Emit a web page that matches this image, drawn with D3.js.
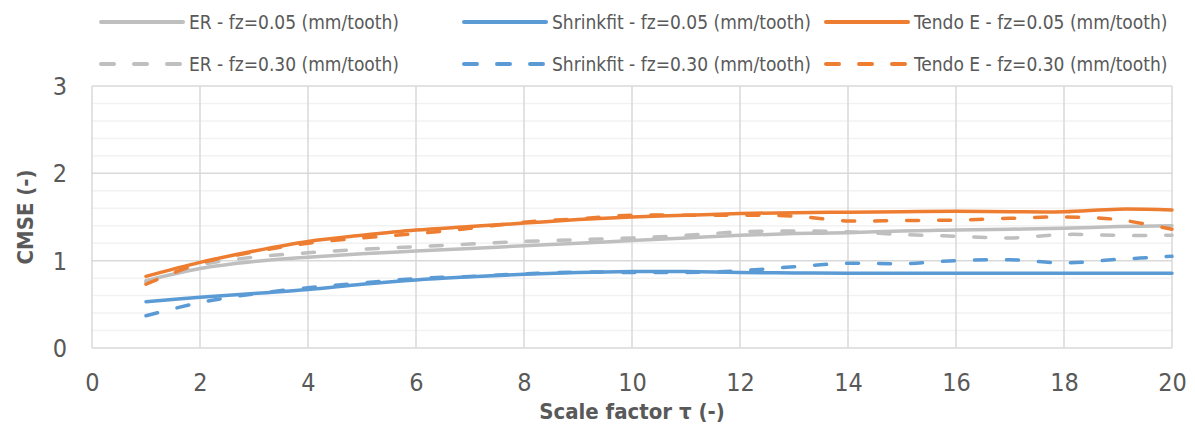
<!DOCTYPE html>
<html><head><meta charset="utf-8">
<script src="https://cdn.jsdelivr.net/npm/d3@7"></script>
<style>
html,body{margin:0;padding:0;background:#fff;}
svg text{font-family:"Liberation Sans Narrow","DejaVu Sans Condensed","Open Sans",sans-serif;fill:#595959;}
</style></head>
<body><svg id="c" width="1195" height="428"></svg>
<script>
const xValues = [1,2,3,4,5,6,7,8,9,10,11,12,13,14,15,16,17,18,19,20];
const erFz005 = [0.77,0.91,0.99,1.04,1.08,1.11,1.14,1.17,1.20,1.23,1.26,1.29,1.31,1.32,1.34,1.35,1.36,1.37,1.39,1.40];
const erFz030 = [0.75,0.95,1.04,1.09,1.13,1.16,1.19,1.22,1.24,1.26,1.29,1.33,1.34,1.33,1.30,1.28,1.26,1.30,1.29,1.29];
const shrinkFz005 = [0.53,0.58,0.625,0.67,0.73,0.78,0.815,0.845,0.865,0.875,0.875,0.865,0.86,0.855,0.855,0.855,0.855,0.855,0.855,0.855];
const shrinkFz030 = [0.37,0.52,0.62,0.69,0.745,0.795,0.82,0.85,0.87,0.865,0.865,0.885,0.93,0.97,0.965,1.0,1.01,0.975,1.015,1.05];
const tendoFz005 = [0.82,0.98,1.11,1.22,1.29,1.35,1.39,1.43,1.47,1.50,1.52,1.54,1.55,1.555,1.56,1.565,1.56,1.56,1.59,1.58];
const tendoFz030 = [0.73,0.97,1.10,1.20,1.26,1.31,1.37,1.44,1.48,1.52,1.52,1.52,1.51,1.455,1.46,1.465,1.485,1.50,1.47,1.36];
const xTicks = [0,2,4,6,8,10,12,14,16,18,20];
const yTicks = [0,1,2,3];
const yMinorTicks = [0.2,0.4,0.6,0.8,1.2,1.4,1.6,1.8,2.2,2.4,2.6,2.8];
const seriesNames = ["ER - fz=0.05 (mm/tooth)","Shrinkfit - fz=0.05 (mm/tooth)","Tendo E - fz=0.05 (mm/tooth)",
                     "ER - fz=0.30 (mm/tooth)","Shrinkfit - fz=0.30 (mm/tooth)","Tendo E - fz=0.30 (mm/tooth)"];
const seriesData = [erFz005, shrinkFz005, tendoFz005, erFz030, shrinkFz030, tendoFz030];
const seriesColors = ["#BFBFBF","#5B9BD5","#ED7D31","#BFBFBF","#5B9BD5","#ED7D31"];
const seriesDashed = [false,false,false,true,true,true];

const svg = d3.select("#c");
const L = 92, R = 1172, T = 86, B = 348;
const x = d3.scaleLinear().domain([0,20]).range([L,R]);
const y = d3.scaleLinear().domain([0,3]).range([B,T]);

svg.append("g").selectAll("line").data(yMinorTicks).join("line")
  .attr("x1",L).attr("x2",R).attr("y1",d=>y(d)).attr("y2",d=>y(d))
  .attr("stroke","#F2F2F2").attr("stroke-width",1.5);
svg.append("g").selectAll("line").data(yTicks).join("line")
  .attr("x1",L).attr("x2",R).attr("y1",d=>y(d)).attr("y2",d=>y(d))
  .attr("stroke","#D9D9D9").attr("stroke-width",1.5);
svg.append("g").selectAll("line").data(xTicks).join("line")
  .attr("x1",d=>x(d)).attr("x2",d=>x(d)).attr("y1",T).attr("y2",B)
  .attr("stroke","#D9D9D9").attr("stroke-width",1.5);

const xAxis = svg.append("g").attr("transform",`translate(0,${B})`)
  .call(d3.axisBottom(x).tickValues(xTicks).tickSize(0).tickPadding(30).tickFormat(d3.format("d")));
xAxis.select(".domain").remove();
xAxis.selectAll("text").attr("font-size",25).attr("fill","#595959").attr("dy","0").attr("y",43);
const yAxis = svg.append("g").attr("transform",`translate(${L},0)`)
  .call(d3.axisLeft(y).tickValues(yTicks).tickSize(0).tickPadding(25).tickFormat(d3.format("d")));
yAxis.select(".domain").remove();
yAxis.selectAll("text").attr("font-size",25).attr("fill","#595959").attr("dy","0.34em");
svg.selectAll(".tick text").style("font-family",'"Liberation Sans Narrow","DejaVu Sans Condensed","Open Sans",sans-serif');

const line = d3.line().x((d,i)=>x(xValues[i])).y(d=>y(d)).curve(d3.curveCatmullRom.alpha(0.5));
const order = [0,3,1,4,2,5];
order.forEach(k=>{
  svg.append("path").attr("d",line(seriesData[k])).attr("fill","none")
    .attr("stroke",seriesColors[k]).attr("stroke-width",3.5)
    .attr("stroke-linecap","round").attr("stroke-linejoin","round")
    .attr("stroke-dasharray",seriesDashed[k]?"12 20":null);
});

svg.append("text").attr("x",(L+R)/2).attr("y",419).attr("text-anchor","middle")
  .attr("font-size",22).attr("font-weight","bold").text("Scale factor τ (-)");
svg.append("text").attr("transform",`translate(33,${(T+B)/2}) rotate(-90)`).attr("text-anchor","middle")
  .attr("font-size",22).attr("font-weight","bold").text("CMSE (-)");

const legX = [101,464,826];
const legY = [22,64];
seriesNames.forEach((nm,k)=>{
  const col = k%3, row = Math.floor(k/3);
  const g = svg.append("g");
  g.append("line").attr("x1",legX[col]).attr("x2",legX[col]+82).attr("y1",legY[row]).attr("y2",legY[row])
    .attr("stroke",seriesColors[k]).attr("stroke-width",4).attr("stroke-linecap","round")
    .attr("stroke-dasharray",seriesDashed[k]?"13 20":null);
  g.append("text").attr("x",legX[col]+88).attr("y",legY[row]).attr("dy","0.35em")
    .attr("font-size",19).text(nm);
});
</script></body></html>
